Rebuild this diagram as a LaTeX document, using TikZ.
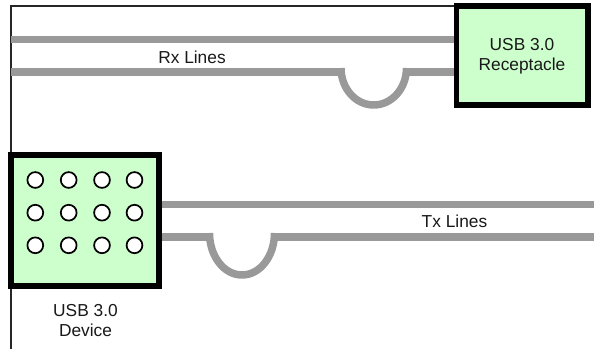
\documentclass[tikz,border=0pt]{standalone}
\usepackage{fontspec}
\setmainfont{Liberation Sans}
\definecolor{boxgreen}{HTML}{CCFFCC}
\definecolor{wire}{HTML}{999999}
\tikzset{
  usbbox/.style={draw=black,fill=boxgreen,line width=4.4pt,inner sep=0pt,rectangle},
  wireline/.style={draw=wire,line width=5.6pt},
  frameline/.style={draw=black!85,line width=1pt},
  pin/.style={circle,draw=black,fill=white,line width=1.3pt,minimum size=15.8*0.75pt,inner sep=0pt},
  lbl/.style={font=\fontsize{13pt}{15pt}\selectfont,align=center,inner sep=0pt,text=black!90}
}
\begin{document}
\begin{tikzpicture}[x=0.75pt,y=-0.75pt]
\useasboundingbox (0,0) rectangle (594,349);
\fill[white] (0,0) rectangle (594,349);
\coordinate (rxTopL) at (11,39.5);
\coordinate (rxLowL) at (11,72);
\coordinate (txTopR) at (594,204.3);
\coordinate (txLowR) at (594,237);
\coordinate (frameA) at (11,349);
\coordinate (frameB) at (11,6);
\coordinate (frameC) at (456,6);
\coordinate (rxJ1) at (341,68);
\coordinate (rxJ2) at (406.5,68);
\coordinate (txJ1) at (209.5,233);
\coordinate (txJ2) at (274.5,233);
\draw[frameline] (frameA) -- (frameB) -- (frameC);
\draw[wireline] (rxTopL) -- (458,39.5);
\draw[wireline] (rxLowL) -- (344.5,72);
\draw[wireline] (rxJ1) .. controls (341,88.4) and (355.6,105) .. (373.7,105) .. controls (391.8,105) and (406.5,88.4) .. (rxJ2);
\draw[wireline] (403,72) -- (458,72);
\draw[wireline] (158,204.3) -- (txTopR);
\draw[wireline] (158,237) -- (213,237);
\draw[wireline] (txJ1) .. controls (209.5,256.2) and (224,275) .. (242,275) .. controls (260,275) and (274.5,256.2) .. (txJ2);
\draw[wireline] (271,237) -- (txLowR);
\node[usbbox,minimum width=131.5*0.75pt,minimum height=98.5*0.75pt] (rec) at (522.3,55.5) {};
\node[usbbox,minimum width=148*0.75pt,minimum height=131*0.75pt] (dev) at (85.4,220.5) {};
\foreach \c/\x in {a/35.3,b/68.7,c/102,d/134.5}
  \foreach \r/\y in {1/180,2/212.7,3/245.3}
    \node[pin] (p\c\r) at (\x,\y) {};
\node[lbl] (rxl) at (192,57) {Rx Lines};
\node[lbl] (txl) at (454.5,221) {Tx Lines};
\node[lbl] (recl) at (522,56) {USB 3.0\\Receptacle};
\node[lbl] (devl) at (85.5,321) {USB 3.0\\Device};
\end{tikzpicture}
\end{document}
